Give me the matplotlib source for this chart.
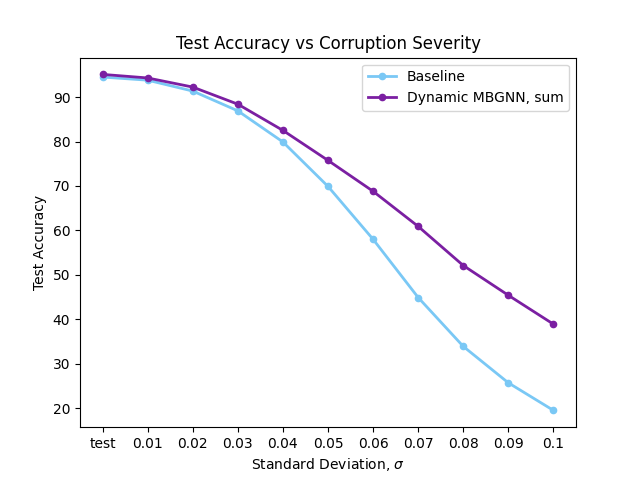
import matplotlib
matplotlib.use("Agg")
import matplotlib.pyplot as plt

severity = ["test", "0.01", "0.02", "0.03", "0.04", "0.05", "0.06", "0.07", "0.08", "0.09", "0.1"]
baseline = [94.5, 93.8, 91.35, 86.9, 79.9, 69.9, 58.0, 44.9, 33.9, 25.7, 19.5]
dynamic_sum = [95.1, 94.3, 92.25, 88.4, 82.5, 75.75, 68.8, 60.9, 52.1, 45.4, 38.9]

fig, ax = plt.subplots(figsize=(6.4, 4.8), dpi=100)
ax.plot(severity, baseline, marker="o", markersize=4.5, linewidth=2, color="#7ac8f5", label="Baseline")
ax.plot(severity, dynamic_sum, marker="o", markersize=4.5, linewidth=2, color="#7b1fa2", label="Dynamic MBGNN, sum")
ax.set_title("Test Accuracy vs Corruption Severity")
ax.set_xlabel(r"Standard Deviation, $\sigma$")
ax.set_ylabel("Test Accuracy")
ax.legend(loc="upper right")
fig.savefig("out.png")
